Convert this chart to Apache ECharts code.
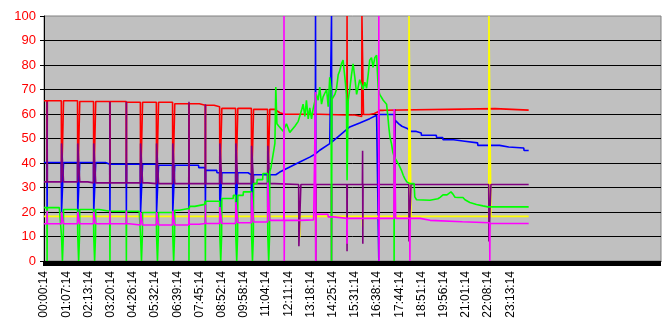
<!DOCTYPE html>
<html><head><meta charset="utf-8">
<script src="https://cdn.jsdelivr.net/npm/echarts@6/dist/echarts.min.js"></script>
<style>html,body{margin:0;padding:0;background:#fff}#c{width:666px;height:326px}</style>
</head><body><div id="c"></div>
<script>
// Tick labels: one every 100 rows
var tickLabels = ['00:00:14','01:07:14','02:13:14','03:20:14','04:26:14','05:32:14','06:39:14','07:45:14','08:52:14','09:58:14','11:04:14','12:11:14','13:18:14','14:25:14','15:31:14','16:38:14','17:44:14','18:51:14','19:56:14','21:01:14','22:08:14','23:13:14'];
var rowCount = 2780;
var rowsPerLabel = 100;

// Series samples as [row, value]; values hold between listed rows
var red = [[0,65.4],
[13,65.4],[14,30],[15,65.4],
[78,65.4],[79,30],[87,30],[88,65.4],
[151,65.4],[152,30],[160,30],[161,65.1],
[223,65.1],[224,30],[232,30],[233,65.1],
[296,65.1],[297,30],[298,65.1],
[370,65.1],[371,30],[372,64.8],
[434,64.8],[435,30],[443,30],[444,64.8],
[506,64.8],[507,30],[515,30],[516,64.8],
[579,64.8],[580,30],[588,30],[589,64.2],
[652,64.2],[653,30],[654,64.2],
[700,64.2],[701,63.6],
[726,63.6],[727,30],[728,63.6],
[766,63.6],[767,63.0],
[791,63.0],[792,30],[800,30],[801,62.3],
[863,62.3],[864,30],[872,30],[873,62.3],
[934,62.3],[935,30],[943,30],[944,61.9],
[1007,61.9],[1008,30],[1016,30],[1017,61.9],
[1040,61.9],[1048,61.5],[1062,60.5],[1085,59.9],[1240,59.9],[1241,59.6],
[1364,59.6],[1365,100],[1366,59.6],
[1400,59.6],[1401,59.0],
[1431,59.0],[1432,100],[1438,100],[1439,59.8],
[1465,59.8],[1466,60.2],[1488,60.2],[1489,61.0],
[1507,61.0],[1508,7],[1509,61.5],
[1530,61.5],[1531,62.2],
[2032,62.2],[2033,61.6],[2183,61.6]];

var blue = [[0,40.2],
[13,40.2],[14,20],[15,40.2],
[78,40.2],[79,20],[87,20],[88,40.2],
[151,40.2],[152,20],[160,20],[161,40.2],
[223,40.2],[224,20],[232,20],[233,40.2],
[277,40.2],[278,39.5],
[296,39.5],[297,20],[298,39.5],
[370,39.5],[371,20],[372,39.5],
[434,39.5],[435,20],[443,20],[444,39.5],
[506,39.5],[507,20],[515,20],[516,39.1],
[579,39.1],[580,20],[588,20],[589,39.1],
[652,39.1],[653,20],[654,39.1],
[696,39.1],[697,38.1],
[726,38.1],[727,20],[728,37.0],
[778,37.0],[779,36.0],
[791,36.0],[792,20],[800,20],[801,36.0],
[863,36.0],[864,20],[872,20],[873,36.0],
[919,36.0],[920,35.2],
[934,35.2],[935,20],[943,20],[944,35.2],
[1007,35.2],[1008,20],[1016,20],[1017,35.2],
[1044,35.2],[1062,36.3],[1107,38.4],[1152,40.4],[1197,42.4],
[1222,43.7],[1223,100],[1224,43.8],
[1242,45.2],[1287,47.9],
[1294,48.4],[1295,100],[1296,48.5],
[1332,51.3],[1377,54.7],[1422,56.3],[1467,58.1],[1498,59.5],
[1507,59.7],[1508,0],[1509,59.8],
[1578,59.8],[1580,42],[1582,57.4],[1598,56.0],[1612,55.0],[1621,54.7],[1639,54.0],[1647,54.0],[1648,52.9],
[1677,52.9],[1678,52.2],[1699,52.2],[1700,51.3],[1767,51.3],[1768,50.4],[1796,50.4],[1797,49.5],
[1845,49.5],[1846,48.9],[1895,48.9],[1896,48.2],[1953,48.2],[1954,47.2],[2052,47.2],[2053,46.5],
[2093,46.5],[2094,46.1],[2161,46.1],[2162,45.1],[2183,45.1]];

var yellow = [[0,18.2],
[1151,18.2],[1152,9.7],[1153,18.2],
[1223,18.2],[1224,10.5],[1225,18.2],
[1364,18.2],[1365,12],[1366,18.2],
[1434,18.2],[1435,14],[1436,18.2],
[1643,18.2],[1644,100],[1652,100],[1653,18.2],
[2003,18.2],[2004,100],[2012,100],[2013,18.2],
[2183,18.2]];

var purple = [[0,32.3],
[13,32.3],[14,65],[15,32.3],
[78,32.3],[79,48],[87,48],[88,32.3],
[151,32.3],[152,48],[160,48],[161,32.3],
[197,32.3],[198,31.9],
[223,31.9],[224,48],[232,48],[233,31.9],
[296,31.9],[297,65],[298,31.9],
[370,31.9],[371,65],[372,31.9],
[434,31.9],[435,48],[443,48],[444,31.9],
[467,31.9],[468,31.6],
[506,31.6],[507,48],[515,48],[516,31.6],
[579,31.6],[580,48],[588,48],[589,31.6],
[652,31.6],[653,65],[654,31.6],
[726,31.6],[727,64],[728,31.6],
[791,31.6],[792,48],[800,48],[801,31.6],
[863,31.6],[864,48],[872,48],[873,31.6],
[934,31.6],[935,47],[943,47],[944,31.6],
[1007,31.6],[1008,47],[1016,47],[1017,31.6],
[1039,31.6],[1040,31.2],
[1147,31.2],[1148,6],[1156,6],[1157,31.2],
[1223,31.2],[1224,0],[1225,31.2],
[1294,31.2],[1295,0],[1296,31.2],
[1364,31.2],[1365,4],[1366,31.2],
[1434,31.2],[1435,45],[1436,7],[1437,31.2],
[1579,31.2],[1580,62],[1581,31.2],
[1643,31.2],[1644,8],[1652,8],[1653,31.2],
[2003,31.2],[2004,8],[2012,8],[2013,31.2],
[2183,31.2]];

var green = [[0,21.8],
[13,21.8],[14,0],[15,21.8],
[69,21.8],[70,21.0],
[78,21.0],[79,10],[83,0],[87,10],[88,21.0],
[151,21.0],[152,10],[156,0],[160,10],[161,21.0],
[223,21.0],[224,10],[228,0],[232,10],[233,21.0],
[249,21.0],[250,20.3],
[296,20.3],[297,0],[298,20.3],
[370,20.3],[371,0],[372,20.3],
[429,20.3],[430,19.8],
[434,19.8],[435,10],[439,0],[443,10],[444,19.8],
[506,19.8],[507,10],[511,0],[515,10],[516,19.8],
[579,19.8],[580,10],[584,0],[588,10],[589,20.7],
[609,20.7],[610,21.4],
[652,21.4],[653,0],[654,21.4],[656,22.3],[679,22.3],[680,23.1],
[724,23.1],[725,24.4],
[726,24.4],[727,0],[728,24.4],
[791,24.4],[792,10],[796,0],[800,10],[801,25.5],
[852,25.5],[853,26.8],
[863,26.8],[864,10],[868,0],[872,10],[873,26.8],
[897,26.8],[898,28.2],
[934,28.2],[935,10],[939,0],[943,10],[944,31.6],
[959,31.6],[960,33.2],[985,33.2],[986,35.7],
[1007,35.7],[1008,10],[1012,0],[1016,10],[1017,36.5],
[1022,38],[1031,43],[1040,48],[1044,71],[1049,56],
[1058,55],[1077,53],[1092,56],[1107,52.5],[1115,53],[1130,55],[1145,57],[1160,61.5],[1167,64],[1175,59],
[1182,65.6],[1190,58],[1197,62.5],[1205,58],[1212,62],[1227,68],[1235,65.6],[1242,71],[1250,64],[1257,67],
[1273,70],[1280,63],[1287,75],[1293,70],[1295,0],[1297,66],[1302,65.6],[1310,68],[1317,70],[1325,76],
[1332,77.6],[1340,80.5],[1347,82],[1355,75],[1362,68],[1365,33],[1370,65.6],[1377,70],[1385,76],[1392,80.5],
[1400,75],[1408,68],[1415,71],[1422,74],[1430,72],[1437,70],[1445,73],[1453,70.5],[1460,76],[1467,82],
[1475,83],[1482,79],[1490,83],[1498,84],[1505,71],[1512,68],[1528,65.6],[1543,64],[1549,58.8],[1553,54.7],
[1558,50.6],[1565,47.9],[1571,44.5],[1576,43],[1577,0],[1578,42.5],[1585,41.8],[1598,39.3],[1610,37],[1618,35],
[1625,33.6],[1634,32.3],[1643,32.3],[1648,31.6],[1667,31.6],[1670,26.2],[1678,25],[1684,24.8],[1738,24.8],[1747,25.4],
[1774,25.4],[1784,26],[1797,27],[1815,27],[1819,27.8],[1833,28.2],[1842,27.3],[1851,26],[1865,25.9],[1887,25.9],
[1896,25],[1918,23.9],[1948,23.1],[1977,22.5],[1999,22.1],[2183,22.1]];

var magenta = [[0,15.2],
[13,15.2],[14,20.5],[15,15.2],
[78,15.2],[79,20],[87,20],[88,15.2],
[151,15.2],[152,20],[160,20],[161,15.2],
[223,15.2],[224,20],[232,20],[233,15.2],
[296,15.2],[297,20.5],[298,15.2],
[370,15.2],[371,20.5],[372,15.2],
[384,15.2],[385,14.7],
[434,14.7],[435,20],[443,20],[444,14.7],
[506,14.7],[507,20],[515,20],[516,14.7],
[579,14.7],[580,20.5],[588,20.5],[589,14.7],
[652,14.7],[653,21],[654,15.0],
[699,15.0],[700,15.3],
[726,15.3],[727,23],[728,15.3],
[791,15.3],[792,22],[800,22],[801,15.3],
[863,15.3],[864,24],[872,24],[873,15.6],
[934,15.6],[935,28],[943,28],[944,15.9],
[1007,15.9],[1008,32],[1016,32],[1017,16.6],
[1080,16.6],[1081,100],[1082,0],[1083,16.6],
[1154,16.6],[1155,16.8],
[1214,16.8],[1215,19.1],
[1222,19.1],[1223,69],[1224,0],[1225,19.1],
[1279,19.1],[1280,18.0],[1304,18.0],[1305,17.4],
[1364,17.4],[1365,7],[1366,17.4],
[1507,17.4],[1508,100],[1509,0],[1510,17.4],
[1576,17.4],[1577,62],[1583,62],[1584,17.4],
[1647,17.4],[1648,0],[1649,17.4],
[1694,17.4],[1695,16.6],[1739,16.6],[1740,16.0],[1884,16.0],[1885,15.6],
[2007,15.6],[2008,0],[2009,15.3],
[2183,15.3]];

var categories = [];
for (var i = 0; i < rowCount; i++) {
  categories.push(i % rowsPerLabel === 0 && tickLabels[i / rowsPerLabel] ? tickLabels[i / rowsPerLabel] : '');
}

var font = '"Liberation Sans", Arial, sans-serif';
function mk(name, data, color, w) {
  return { name: name, type: 'line', data: data, symbol: 'none', showSymbol: false,
    lineStyle: { color: color, width: w }, itemStyle: { color: color }, silent: true, animation: false };
}

var chart = echarts.init(document.getElementById('c'), null, { renderer: 'canvas' });
chart.setOption({
  animation: false,
  backgroundColor: '#ffffff',
  grid: { left: 44, right: 5, top: 16, bottom: 65, show: true, backgroundColor: '#C0C0C0', borderColor: '#808080', borderWidth: 1 },
  xAxis: {
    type: 'category', data: categories, boundaryGap: false,
    axisLine: { lineStyle: { color: '#000', width: 1 } },
    axisTick: { show: true, interval: 9, length: 5, lineStyle: { color: '#000', width: 3 } },
    axisLabel: { interval: rowsPerLabel - 1, rotate: 90, color: '#000', fontSize: 12, fontFamily: font, margin: 10 },
    splitLine: { show: false }
  },
  yAxis: {
    type: 'value', min: 0, max: 100, interval: 10,
    axisLine: { show: true, lineStyle: { color: '#000', width: 1 } },
    axisTick: { show: true, length: 4, lineStyle: { color: '#000' } },
    axisLabel: { color: '#FF0000', fontSize: 13, fontFamily: font, margin: 8 },
    splitLine: { show: true, showMinLine: false, showMaxLine: false, lineStyle: { color: '#000', width: 1 } }
  },
  series: [
    mk('red', red, '#FF0000', 1.6),
    mk('blue', blue, '#0000FF', 1.6),
    mk('yellow', yellow, '#FFFF00', 1.6),
    mk('purple', purple, '#800080', 1.6),
    mk('green', green, '#00FF00', 1.6),
    mk('magenta', magenta, '#FF00FF', 1.6)
  ]
});
</script></body></html>
